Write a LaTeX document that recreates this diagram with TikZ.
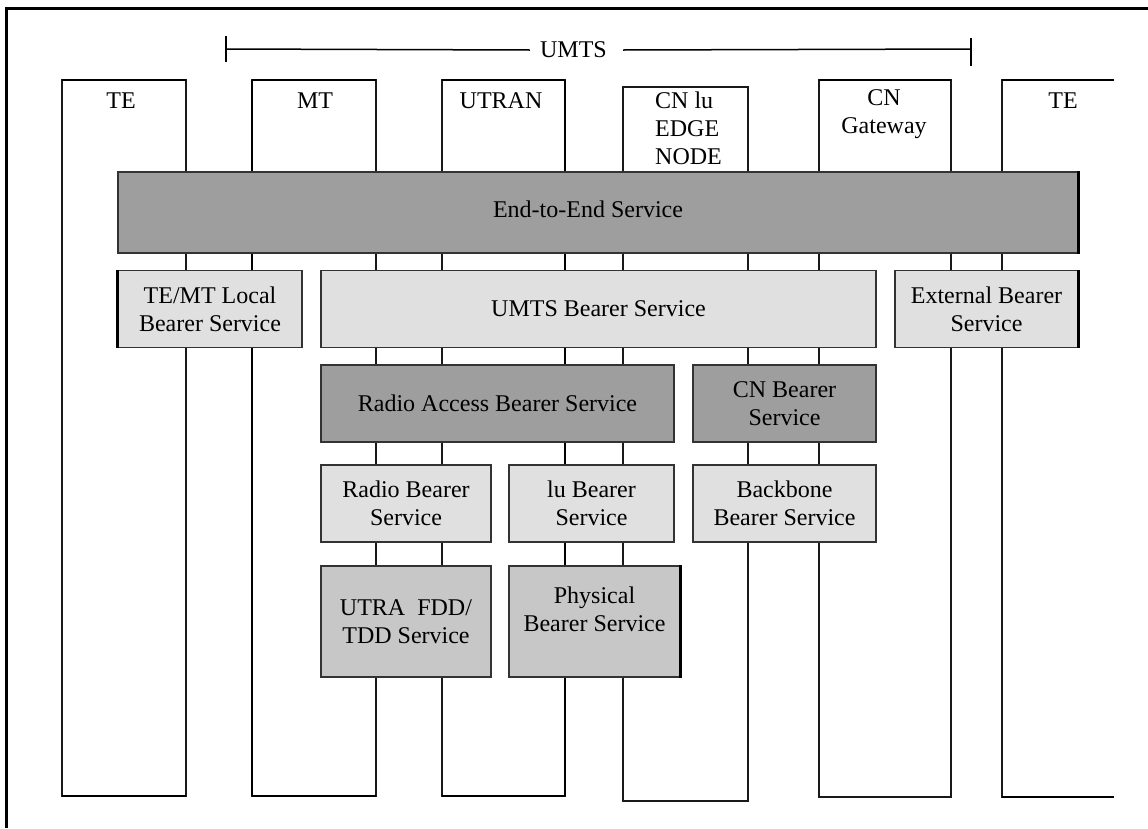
\documentclass[tikz,border=0pt]{standalone}
\usepackage{fontspec}
\setmainfont{Liberation Serif}
\begin{document}
\begin{tikzpicture}[x=1pt,y=-1pt,
  col/.style={line width=1.5pt, draw=black!90},
  colthick/.style={line width=2.8pt, draw=black},
  box/.style={draw=black!80, line width=1.5pt, inner sep=0pt, align=center, font=\fontsize{24}{28}\selectfont},
  darkbox/.style={box, fill=black!38},
  lightbox/.style={box, fill=black!12},
  midbox/.style={box, fill=black!22},
  lbl/.style={inner sep=0pt, font=\fontsize{24}{28}\selectfont, align=center},
  boldedge/.style={line width=3pt, draw=black}
]
\useasboundingbox (0,0) rectangle (1148,828);
% frame
\draw[line width=3pt] (6,828) -- (6,8) -- (1148,8);
% UMTS span
\node[lbl] (umts) at (573.5,50) {UMTS};
\coordinate (ul) at (226,49);
\coordinate (ur) at (971,49);
\draw[line width=1.5pt] (ul) -- ([xshift=-10pt]umts.west);
\draw[line width=1.5pt] ([xshift=16pt]umts.east) -- (ur);
\draw[line width=2.5pt] (226,36) -- (226,62);
\draw[line width=2.5pt] (971,38) -- (971,66);
% columns
\draw[col] (62,80) rectangle (186,796);
\draw[col] (252,80) rectangle (376,796);
\draw[col] (442,80) rectangle (565,796);
\draw[col, line width=1.2pt] (623,87) rectangle (748,801);
\draw[col] (819,80) rectangle (951,797);
\draw[col] (1114,80) -- (1002,80) -- (1002,797) -- (1114,797);
\draw[colthick] (62,80) -- (186,80);
\draw[colthick] (252,80) -- (376,80);
\draw[colthick] (442,80) -- (565,80);
\draw[colthick] (819,80) -- (951,80);
\draw[colthick] (1002,80) -- (1114,80);
\draw[colthick] (252,80) -- (252,796);
\draw[colthick] (565,80) -- (565,796);
\draw[colthick] (62,796) -- (186,796);
\draw[colthick] (252,796) -- (376,796);
\draw[colthick] (442,796) -- (565,796);
\draw[colthick] (1002,797) -- (1114,797);
% column labels
\node[lbl] (teL) at (121,101) {TE};
\node[lbl] (mt) at (315,101) {MT};
\node[lbl] (utran) at (501,101) {UTRAN};
\node[lbl, align=left, anchor=west] (cnlu) at (655,128) {CN lu\\EDGE\\NODE};
\node[lbl] (cngw) at (884,114) {CN\\Gateway};
\node[lbl] (teR) at (1063,101) {TE};
% service boxes
\node[darkbox, minimum width=960, minimum height=81] (e2e) at (598,212.5) {};
\node[lbl] (e2eT) at (588,209) {End-to-End Service};
\node[lightbox, minimum width=184, minimum height=77] (temt) at (210,309) {TE/MT Local\\Bearer Service};
\node[lightbox, minimum width=555, minimum height=77] (umtsb) at (598.5,309) {UMTS Bearer Service};
\node[lightbox, minimum width=183, minimum height=77] (ext) at (986.5,309) {External Bearer\\Service};
\node[darkbox, minimum width=353, minimum height=77] (rab) at (497.5,403.5) {Radio Access Bearer Service};
\node[darkbox, minimum width=183, minimum height=77] (cnb) at (784.5,403.5) {CN Bearer\\Service};
\node[lightbox, minimum width=170, minimum height=77] (rb) at (406,503.5) {Radio Bearer\\Service};
\node[lightbox, minimum width=165, minimum height=77] (lub) at (591.5,503.5) {lu Bearer\\Service};
\node[lightbox, minimum width=183, minimum height=77] (bb) at (784.5,503.5) {Backbone\\Bearer Service};
\node[midbox, minimum width=170, minimum height=111] (utra) at (406,621.5) {UTRA\ \ FDD/\\TDD Service};
\node[midbox, minimum width=171, minimum height=111] (phys) at (594.5,621.5) {};
\node[lbl] (physT) at ([yshift=12pt]phys.center) {Physical\\Bearer Service};
% heavier edges
\draw[boldedge] (e2e.north east) -- (e2e.south east);
\draw[boldedge] (temt.north west) -- (temt.south west);
\draw[boldedge] (ext.north east) -- (ext.south east);
\draw[boldedge] (phys.north east) -- (phys.south east);
\end{tikzpicture}
\end{document}
